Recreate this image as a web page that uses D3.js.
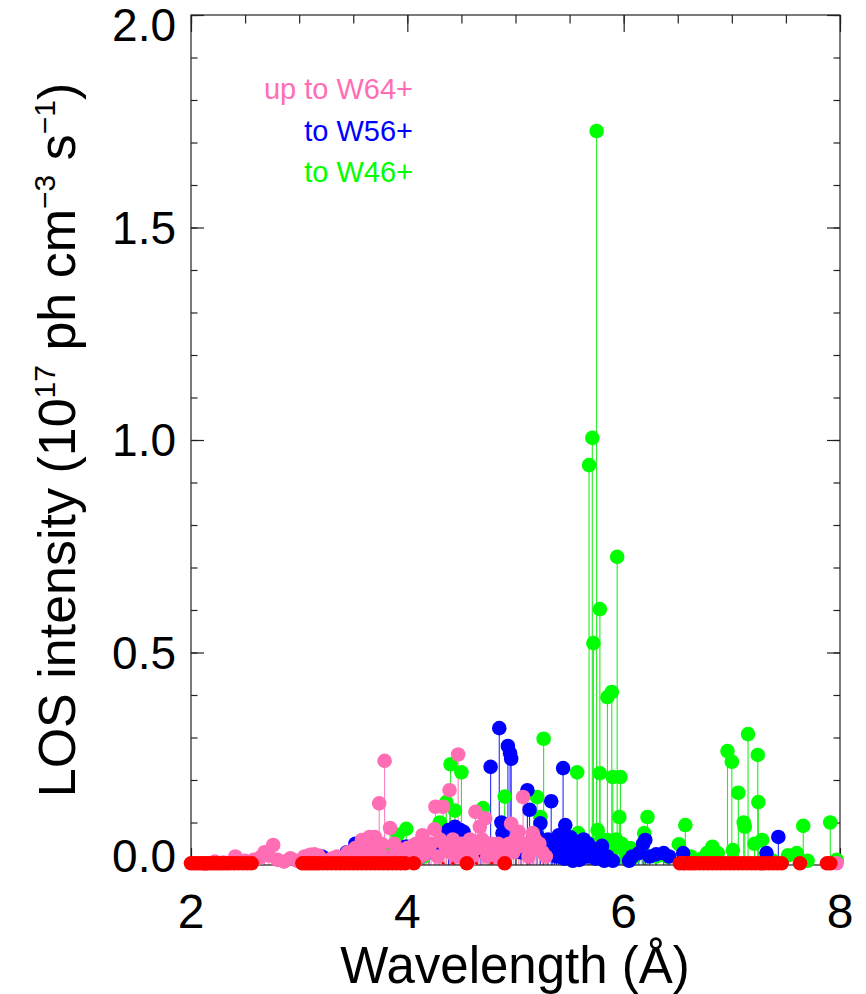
<!DOCTYPE html>
<html>
<head>
<meta charset="utf-8">
<script src="https://cdn.jsdelivr.net/npm/d3@7/dist/d3.min.js"></script>
<style>
html,body{margin:0;padding:0;background:#fff;}
svg{display:block;font-family:"Liberation Sans",Arial,Helvetica,sans-serif;}
</style>
</head>
<body>
<svg id="chart" width="866" height="994"></svg>
<script>
// ---------------- data ----------------
const xTicks = [2, 4, 6, 8];
const yTicks = [0.0, 0.5, 1.0, 1.5, 2.0];
const legendLabels = ["up to W64+", "to W56+", "to W46+"];

// red: lines sitting on the baseline
const redWl = [2.00,2.03,2.06,2.09,2.12,2.15,2.18,2.21,2.24,2.27,2.30,2.33,2.36,2.40,2.44,2.48,2.52,2.56,
  3.03,3.06,3.09,3.12,3.15,3.18,3.22,3.26,3.30,3.34,3.38,3.42,3.46,3.50,3.54,3.58,3.62,3.66,3.70,3.74,3.78,3.82,3.86,3.90,3.94,3.98,4.06,
  4.55,4.90,
  6.52,6.56,6.60,6.63,6.66,6.70,6.74,6.78,6.82,6.86,6.90,6.94,6.98,7.02,7.06,7.10,7.14,7.18,7.22,7.26,7.30,7.34,7.38,7.42,7.46,7.63,7.88,7.91];
const redInt = [0.004,0.004,0.004,0.004,0.004,0.004,0.004,0.004,0.004,0.004,0.004,0.004,0.004,0.004,0.004,0.004,0.004,0.004,
  0.004,0.004,0.004,0.004,0.004,0.004,0.004,0.004,0.004,0.004,0.004,0.004,0.004,0.004,0.004,0.004,0.004,0.004,0.004,0.004,0.004,0.004,0.004,0.004,0.004,0.004,0.004,
  0.004,0.004,
  0.004,0.004,0.004,0.004,0.004,0.004,0.004,0.004,0.004,0.004,0.004,0.004,0.004,0.004,0.004,0.004,0.004,0.004,0.004,0.004,0.004,0.004,0.004,0.004,0.004,0.004,0.004,0.004];
const redSmallWl = [4.33, 4.42, 4.64, 4.78];
const redSmallInt = [0.004, 0.004, 0.004, 0.004];

// pink: up to W64+
const pinkWl = [2.13,2.22,2.30,2.41,2.50,2.58,2.64,2.68,2.72,2.76,2.80,2.86,2.92,2.98,
  3.05,3.10,3.14,3.18,3.24,3.30,3.35,3.42,3.45,3.48,3.52,3.55,3.58,3.60,3.62,
  3.65,3.68,3.70,3.72,3.74,3.76,3.79,3.82,3.84,3.88,3.92,3.96,4.00,4.03,4.05,4.08,4.10,4.12,4.14,4.16,4.18,4.20,
  4.22,4.25,4.26,4.28,4.30,4.33,4.34,4.36,4.39,4.40,4.42,4.44,4.46,4.47,4.50,4.52,4.55,4.58,4.60,4.63,4.65,4.67,4.69,4.70,4.72,4.74,4.76,4.78,4.80,4.82,
  4.84,4.86,4.88,4.90,4.94,4.96,4.98,5.00,5.03,5.05,5.07,5.10,5.12,5.14,5.16,5.18,5.20,5.22,5.25,5.28,
  6.55,7.97];
const pinkInt = [0.003,0.008,0.006,0.020,0.010,0.012,0.018,0.030,0.022,0.047,0.012,0.008,0.016,0.010,
  0.020,0.024,0.025,0.022,0.010,0.015,0.020,0.012,0.030,0.018,0.040,0.030,0.059,0.030,0.045,
  0.066,0.040,0.066,0.025,0.145,0.050,0.245,0.020,0.087,0.050,0.035,0.030,0.040,0.015,0.045,0.050,0.030,0.020,0.070,0.025,0.040,0.035,
  0.050,0.084,0.137,0.020,0.060,0.137,0.050,0.040,0.176,0.030,0.060,0.020,0.040,0.260,0.050,0.020,0.035,0.060,0.015,0.125,0.040,0.090,0.060,0.050,0.110,0.020,0.040,0.050,0.030,0.020,
  0.050,0.040,0.015,0.035,0.050,0.097,0.030,0.060,0.078,0.045,0.160,0.050,0.020,0.040,0.075,0.060,0.040,0.050,0.030,0.020,
  0.004,0.004];

// blue: to W56+
const blueWl = [3.21,3.30,3.37,3.44,3.52,3.59,3.61,3.66,3.72,3.80,3.90,3.98,4.00,4.06,
  4.12,4.20,4.28,4.38,4.42,4.44,4.49,4.52,4.56,4.62,4.68,4.77,4.80,4.85,4.87,4.88,4.92,4.93,4.95,4.96,5.00,5.05,
  5.11,5.13,5.16,5.20,5.23,5.26,5.30,5.33,5.34,5.36,5.38,5.40,5.42,5.44,5.45,5.46,5.47,5.48,5.50,5.51,5.52,5.53,5.55,5.56,5.58,5.59,5.60,5.62,5.63,5.65,5.67,5.68,5.70,5.72,5.74,5.75,5.78,5.80,5.82,5.85,5.90,
  6.05,6.08,6.14,6.18,6.20,6.24,6.30,6.37,6.42,6.55,7.32,7.43];
const blueInt = [0.020,0.010,0.014,0.030,0.050,0.040,0.059,0.035,0.020,0.015,0.020,0.043,0.043,0.025,
  0.020,0.030,0.035,0.082,0.050,0.090,0.082,0.078,0.040,0.030,0.045,0.231,0.040,0.322,0.100,0.075,0.050,0.280,0.263,0.250,0.040,0.030,
  0.176,0.130,0.060,0.070,0.098,0.050,0.060,0.150,0.030,0.040,0.020,0.070,0.055,0.228,0.015,0.094,0.035,0.060,0.045,0.065,0.030,0.010,0.050,0.020,0.040,0.012,0.030,0.045,0.060,0.020,0.050,0.030,0.040,0.020,0.015,0.035,0.028,0.045,0.010,0.020,0.010,
  0.010,0.020,0.028,0.050,0.059,0.020,0.025,0.028,0.020,0.028,0.028,0.066];

// green: to W46+
const greenWl = [3.53,3.70,3.78,3.85,3.91,3.99,4.05,4.15,4.20,
  4.30,4.36,4.40,4.44,4.50,4.55,4.60,4.70,4.75,4.80,4.90,4.95,
  5.05,5.10,5.20,5.23,5.26,5.30,5.40,5.50,5.57,5.58,5.62,5.64,
  5.68,5.70,5.71,5.72,5.74,5.75,5.76,5.78,5.78,5.80,5.82,5.85,5.85,5.87,5.89,5.90,5.92,5.93,5.94,5.96,5.97,5.98,6.00,6.02,6.04,6.06,6.10,6.12,
  6.17,6.19,6.22,6.30,6.40,6.51,6.57,6.62,6.72,6.77,6.82,6.87,6.96,7.00,7.01,7.06,7.11,7.12,7.15,7.21,7.24,7.245,7.28,7.38,7.52,7.60,7.66,7.70,7.91,7.97];
const greenInt = [0.010,0.020,0.045,0.030,0.071,0.085,0.030,0.020,0.050,
  0.100,0.148,0.237,0.128,0.218,0.060,0.040,0.134,0.050,0.030,0.161,0.040,
  0.030,0.050,0.160,0.113,0.297,0.050,0.030,0.040,0.218,0.075,0.040,0.030,
  0.941,0.050,1.005,0.522,0.030,1.727,0.082,0.602,0.216,0.060,0.040,0.395,0.059,0.030,0.407,0.207,0.040,0.060,0.725,0.113,0.207,0.050,0.040,0.030,0.015,0.040,0.020,0.030,
  0.043,0.075,0.113,0.020,0.020,0.049,0.094,0.020,0.015,0.028,0.043,0.028,0.268,0.243,0.035,0.170,0.100,0.090,0.308,0.050,0.259,0.148,0.059,0.010,0.023,0.028,0.092,0.010,0.100,0.012];

// ---------------- chart ----------------
const svg = d3.select("#chart");
const x = d3.scaleLinear().domain([2, 8]).range([191, 840]);
const y = d3.scaleLinear().domain([0, 2]).range([865, 15]);

const series = [
  {wl: greenWl, val: greenInt, color: "#00ff00", stem: "#22ee22"},
  {wl: blueWl, val: blueInt, color: "#0000ff", stem: "#2a2aff"},
  {wl: pinkWl, val: pinkInt, color: "#ff6eb4", stem: "#ff80bd"},
];
const R = 7.3;

const stemG = svg.append("g");
series.forEach(s => {
  stemG.selectAll(null).data(d3.zip(s.wl, s.val)).join("line")
    .attr("x1", d => x(d[0])).attr("x2", d => x(d[0]))
    .attr("y1", y(0)).attr("y2", d => y(d[1]))
    .attr("stroke", s.stem).attr("stroke-width", 1.1);
});

// frame + ticks
const minorX = d3.range(2, 8.001, 0.5);
const minorY = d3.range(0, 2.001, 0.1).map(v => +v.toFixed(1));

function styleAxis(g) {
  g.select(".domain").remove();
  g.selectAll(".tick line").attr("stroke", "#222").attr("stroke-width", 1.2);
}
function ax(axisFn, vals, size, tr) {
  svg.append("g").attr("transform", tr)
    .call(axisFn.tickValues(vals).tickSizeInner(-size).tickSizeOuter(0).tickFormat(""))
    .call(styleAxis);
}
ax(d3.axisBottom(x), minorX, 8.5, `translate(0,${y(0)})`);
ax(d3.axisBottom(x), xTicks, 17, `translate(0,${y(0)})`);
ax(d3.axisTop(x), minorX, 8.5, `translate(0,${y(2)})`);
ax(d3.axisTop(x), xTicks, 17, `translate(0,${y(2)})`);
ax(d3.axisLeft(y), minorY, 6.5, `translate(${x(2)},0)`);
ax(d3.axisLeft(y), yTicks, 13, `translate(${x(2)},0)`);
ax(d3.axisRight(y), minorY, 6.5, `translate(${x(8)},0)`);
ax(d3.axisRight(y), yTicks, 13, `translate(${x(8)},0)`);
svg.append("rect").attr("x", x(2)).attr("y", y(2))
  .attr("width", x(8) - x(2)).attr("height", y(0) - y(2))
  .attr("fill", "none").attr("stroke", "#222").attr("stroke-width", 1.2);

// dots
const dotG = svg.append("g");
series.forEach(s => {
  dotG.selectAll(null).data(d3.zip(s.wl, s.val)).join("circle")
    .attr("cx", d => x(d[0])).attr("cy", d => y(d[1])).attr("r", R)
    .attr("fill", s.color);
});
dotG.selectAll(null).data(d3.zip(redWl, redInt)).join("circle")
  .attr("cx", d => x(d[0])).attr("cy", d => y(d[1])).attr("r", R).attr("fill", "#ff0000");
dotG.selectAll(null).data(d3.zip(redSmallWl, redSmallInt)).join("circle")
  .attr("cx", d => x(d[0])).attr("cy", d => y(d[1])).attr("r", 1.6).attr("fill", "#ff0000");

// tick labels
svg.append("g").selectAll("text").data(xTicks).join("text")
  .attr("x", d => x(d)).attr("y", 928).attr("text-anchor", "middle")
  .attr("font-size", 48).attr("fill", "#000").text(d => d);
const yLabelShift = v => (v === 0 ? -9 : v === 2 ? 10 : 0);
svg.append("g").selectAll("text").data(yTicks).join("text")
  .attr("x", 176).attr("y", d => y(d) + 16 + yLabelShift(d)).attr("text-anchor", "end")
  .attr("font-size", 46).attr("fill", "#000").text(d => d.toFixed(1));

// axis titles
svg.append("text").attr("x", 515).attr("y", 983).attr("text-anchor", "middle")
  .attr("font-size", 51).attr("fill", "#000").text("Wavelength (Å)");

const yt = svg.append("text")
  .attr("transform", "translate(75,440) rotate(-90)")
  .attr("text-anchor", "middle").attr("font-size", 52).attr("fill", "#000");
yt.append("tspan").text("LOS intensity (10");
yt.append("tspan").attr("dy", -20).attr("font-size", 30).text("17");
yt.append("tspan").attr("dy", 20).text(" ph cm");
yt.append("tspan").attr("dy", -20).attr("font-size", 30).text("\u22123");
yt.append("tspan").attr("dy", 20).text(" s");
yt.append("tspan").attr("dy", -20).attr("font-size", 30).text("\u22121");
yt.append("tspan").attr("dy", 20).text(")");

// legend
const legColors = ["#ff6eb4", "#0000ff", "#00ff00"];
svg.append("g").selectAll("text").data(legendLabels).join("text")
  .attr("x", 413).attr("y", (d, i) => 99 + i * 41.5).attr("text-anchor", "end")
  .attr("font-size", 29).attr("fill", (d, i) => legColors[i]).text(d => d);
</script>
</body>
</html>
